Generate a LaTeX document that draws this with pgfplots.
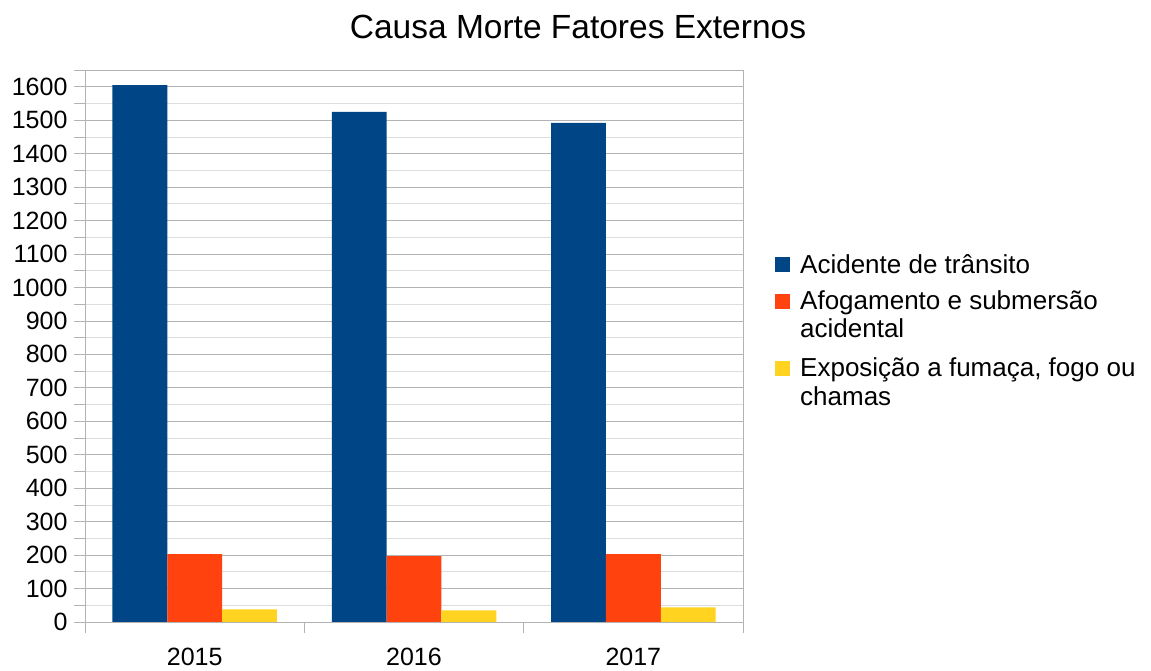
\documentclass[border=0pt]{standalone}
\usepackage{pgfplots}
\pgfplotsset{compat=1.18}
\usepackage{fontspec}
\setmainfont{Liberation Sans}
\definecolor{cblue}{HTML}{004586}
\definecolor{corange}{HTML}{FF420E}
\definecolor{cyellow}{HTML}{FFD320}
\definecolor{gridmaj}{HTML}{B3B3B3}
\definecolor{gridmin}{HTML}{DDDDDD}
\newcommand{\st}[1]{\vrule height #1pt depth 6pt width 0pt}
\begin{document}
\begin{tikzpicture}[x=1pt,y=1pt]
\path (0,0) rectangle (1151,671);
\node[font=\fontsize{33.5}{38}\selectfont, anchor=center] at (578,644) {Causa Morte Fatores Externos};
\begin{axis}[
  at={(85pt,49pt)}, anchor=south west,
  scale only axis, width=658pt, height=552pt,
  xmin=-0.5, xmax=2.5, ymin=0, ymax=1650,
  axis line style={draw=gridmaj},
  every tick/.style={gridmaj, line width=0.8pt},
  tick align=outside,
  xtick pos=bottom, ytick pos=left,
  major tick length=11pt, minor tick length=11pt,
  xtick={-0.5,0.5,1.5,2.5}, xticklabels={},
  extra x ticks={0,1,2}, extra x tick labels={2015,2016,2017},
  extra x tick style={major tick length=0pt, grid=none, xticklabel style={yshift=-23pt}},
  ytick={0,100,...,1600},
  minor ytick={50,150,...,1650},
  ymajorgrids, yminorgrids,
  major grid style={gridmaj, line width=0.8pt},
  minor grid style={gridmin, line width=0.8pt},
  ticklabel style={font=\fontsize{25}{29}\selectfont, text=black},
  yticklabel style={xshift=-3pt},
  /pgf/number format/assume math mode=true,
  /pgf/number format/1000 sep={},
  ybar=0pt, bar width=0.25,
  legend style={draw=none, fill=none, at={(1,0.5)}, anchor=west, xshift=32pt, yshift=16pt,
    font=\fontsize{26}{30}\selectfont, row sep=0pt, column sep=8pt, inner sep=0pt,
    cells={anchor=base west, inner sep=0pt}},
  legend image code/.code={\fill[#1] (0pt,1pt) rectangle (15pt,16pt);},
]
\addplot[fill=cblue, draw=none, bar shift=-0.25] coordinates {(0,1605) (1,1525) (2,1492)};
\addlegendentry{\st{20}Acidente de trânsito}
\addplot[fill=corange, draw=none, bar shift=0] coordinates {(0,203) (1,197) (2,203)};
\addlegendentry{\st{31}Afogamento e submersão}
\addlegendimage{empty legend}
\addlegendentry{\st{22}acidental}
\addplot[fill=cyellow, draw=none, bar shift=0.25] coordinates {(0,38) (1,35) (2,44)};
\addlegendentry{\st{34}Exposição a fumaça, fogo ou}
\addlegendimage{empty legend}
\addlegendentry{\st{23}chamas}
\end{axis}
\end{tikzpicture}
\end{document}
